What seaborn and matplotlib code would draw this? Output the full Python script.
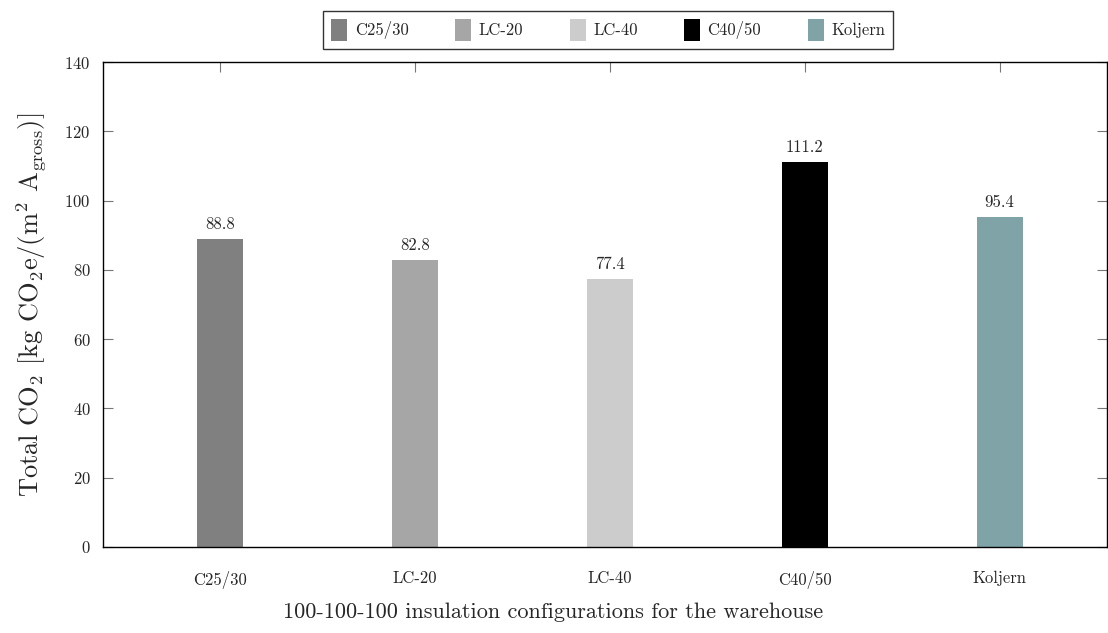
import matplotlib
matplotlib.use("Agg")
import matplotlib.pyplot as plt
from matplotlib.patches import Patch
import seaborn as sns
import pandas as pd

# Data
categories = ["C25/30", "LC-20", "LC-40", "C40/50", "Koljern"]
totals = [88.8, 82.8, 77.4, 111.2, 95.4]
bar_colors = ["#808080", "#a6a6a6", "#cccccc", "#000000", "#80a3a8"]
y_ticks = [0, 20, 40, 60, 80, 100, 120, 140]

sns.set_theme(style="white")
plt.rcParams["font.family"] = ["cmr10", "DejaVu Serif"]
plt.rcParams["mathtext.fontset"] = "cm"
plt.rcParams["axes.formatter.use_mathtext"] = True

small = 12

df = pd.DataFrame({"config": categories, "co2": totals})

fig = plt.figure(figsize=(11.08, 6.33), dpi=100)
ax = fig.add_axes([0.093, 0.1359, 0.906, 0.7661])

sns.barplot(data=df, x="config", y="co2", hue="config", order=categories,
            hue_order=categories, palette=bar_colors, width=0.236,
            dodge=False, legend=False, ax=ax, linewidth=0, saturation=1)

# Value labels above bars
for container in ax.containers:
    ax.bar_label(container, fmt="%.1f", padding=5, fontsize=small)

ax.set_ylim(0, 140)
ax.set_xlim(-0.6, 4.55)
ax.set_yticks(y_ticks)

for side in ["left", "right", "top", "bottom"]:
    ax.spines[side].set_visible(True)
    ax.spines[side].set_color("black")
    ax.spines[side].set_linewidth(1.0)

ax.tick_params(axis="y", direction="in", length=7, width=0.8, color="#777777",
               left=True, right=True, labelsize=small, pad=9)
ax.tick_params(axis="x", direction="in", length=7, width=0.8, color="#777777",
               bottom=True, top=True, labelsize=small, pad=17)

ax.set_xlabel("100-100-100 insulation configurations for the warehouse",
              fontsize=16)
ax.xaxis.set_label_coords(0.448, -0.115)
ax.set_ylabel(r"Total CO$_2$ [kg CO$_2$e/(m$^2$ A$_{\mathrm{gross}}$)]",
              fontsize=19, labelpad=12)

handles = [Patch(facecolor=c, edgecolor="none", label=l)
           for c, l in zip(bar_colors, categories)]
leg = fig.legend(handles=handles, loc="upper center", ncol=5,
                 bbox_to_anchor=(0.549, 0.983), fontsize=small,
                 handlelength=0.95, handleheight=1.6, handletextpad=0.45,
                 columnspacing=2.8, frameon=True, fancybox=False,
                 borderpad=0.5, borderaxespad=0)
leg.get_frame().set_edgecolor("black")
leg.get_frame().set_linewidth(1.0)

fig.savefig("out.png", dpi=100)
